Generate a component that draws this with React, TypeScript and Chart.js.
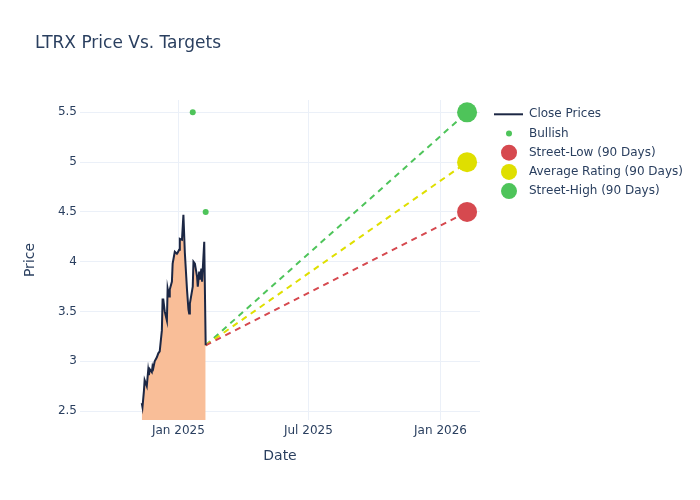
import React, { useEffect, useRef } from "react";
import { Chart, registerables } from "chart.js";

Chart.register(...registerables);

const chartTitle = "LTRX Price Vs. Targets";
const xAxisTitle = "Date";
const yAxisTitle = "Price";

const closeDates = [
  "2024-11-11", "2024-11-12", "2024-11-14", "2024-11-15", "2024-11-18", "2024-11-20",
  "2024-11-21", "2024-11-22", "2024-11-25", "2024-11-26", "2024-11-27", "2024-11-29",
  "2024-12-02", "2024-12-04", "2024-12-06", "2024-12-09", "2024-12-10", "2024-12-11",
  "2024-12-13", "2024-12-16", "2024-12-17", "2024-12-19", "2024-12-20", "2024-12-23",
  "2024-12-24", "2024-12-27", "2024-12-30", "2024-12-31",
  "2025-01-02", "2025-01-03", "2025-01-06", "2025-01-08", "2025-01-10", "2025-01-13",
  "2025-01-15", "2025-01-16", "2025-01-17", "2025-01-21", "2025-01-22", "2025-01-24",
  "2025-01-27", "2025-01-28", "2025-01-30", "2025-01-31", "2025-02-02", "2025-02-03",
  "2025-02-06", "2025-02-08",
];
const closePrices = [
  2.58, 2.54, 2.70, 2.81, 2.75, 2.91,
  2.86, 2.92, 2.89, 2.95, 2.93, 3.00,
  3.04, 3.08, 3.10, 3.31, 3.62, 3.62,
  3.50, 3.41, 3.73, 3.65, 3.72, 3.80,
  3.98, 4.10, 4.08, 4.09,
  4.12, 4.23, 4.22, 4.47, 4.09, 3.72,
  3.52, 3.48, 3.58, 3.75, 4.00, 3.98,
  3.85, 3.75, 3.90, 3.82, 3.93, 3.80,
  4.20, 3.16,
];

const bullishDates = ["2025-01-21", "2025-02-08"];
const bullishTargets = [5.5, 4.5];

const targetStartDate = "2025-02-08";
const targetStartPrice = 3.16;
const targetEndDate = "2026-02-07";
const targetLabels = ["Street-Low (90 Days)", "Average Rating (90 Days)", "Street-High (90 Days)"];
const targetValues = [4.5, 5.0, 5.5];
const targetColors = ["#D6494F", "#DFDF00", "#4EC45A"];

const closeLabel = "Close Prices";
const bullishLabel = "Bullish";
const closeLineColor = "#1C2744";
const closeFillColor = "#F9BE98";
const bullishColor = "#4EC45A";

const xTickDates = ["2025-01-01", "2025-07-01", "2026-01-01"];
const xTickLabels = ["Jan 2025", "Jul 2025", "Jan 2026"];
const yTicks = [2.5, 3, 3.5, 4, 4.5, 5, 5.5];
const xRangeDates = ["2024-08-17", "2026-02-25"];
const yRange = [2.41, 5.624];

const FONT = "'DejaVu Sans', 'Open Sans', Verdana, Arial, sans-serif";
const TEXT = "#2a3f5f";
const GRID = "#EBF0F8";

const dayNum = (s: string) => {
  const [y, m, d] = s.split("-").map(Number);
  return Date.UTC(y, m - 1, d) / 86400000;
};

const legendPlugin = {
  id: "plotlyLegendTitle",
  afterDraw(chart: any) {
    const ctx = chart.ctx as CanvasRenderingContext2D;
    ctx.save();
    ctx.fillStyle = TEXT;
    ctx.font = `17px ${FONT}`;
    ctx.textAlign = "left";
    ctx.textBaseline = "middle";
    ctx.fillText(chartTitle, 35, 44);

    const items = [
      { label: closeLabel, kind: "line", color: closeLineColor, r: 0 },
      { label: bullishLabel, kind: "dot", color: bullishColor, r: 3 },
      ...targetLabels.map((l, i) => ({ label: l, kind: "dot", color: targetColors[i], r: 8 })),
    ];
    const x0 = 494;
    const y0 = 114.3;
    const step = 19.2;
    ctx.font = `12px ${FONT}`;
    items.forEach((it, i) => {
      const y = y0 + i * step;
      if (it.kind === "line") {
        ctx.strokeStyle = it.color;
        ctx.lineWidth = 2;
        ctx.beginPath();
        ctx.moveTo(x0, y);
        ctx.lineTo(x0 + 29, y);
        ctx.stroke();
      } else {
        ctx.fillStyle = it.color;
        ctx.beginPath();
        ctx.arc(x0 + 15, y, it.r, 0, Math.PI * 2);
        ctx.fill();
      }
      ctx.fillStyle = TEXT;
      ctx.fillText(it.label, x0 + 35, y);
    });
    ctx.restore();
  },
};

export default function App() {
  const canvasRef = useRef<HTMLCanvasElement | null>(null);

  useEffect(() => {
    if (!canvasRef.current) return;
    const closeData = closeDates.map((d, i) => ({ x: dayNum(d), y: closePrices[i] }));
    const bullishData = bullishDates.map((d, i) => ({ x: dayNum(d), y: bullishTargets[i] }));
    const targetSets = targetValues.map((v, i) => ({
      type: "line" as const,
      label: targetLabels[i],
      data: [
        { x: dayNum(targetStartDate), y: targetStartPrice },
        { x: dayNum(targetEndDate), y: v },
      ],
      borderColor: targetColors[i],
      backgroundColor: targetColors[i],
      borderWidth: 2,
      borderDash: [6, 5],
      pointRadius: [0, 10],
      pointHoverRadius: [0, 10],
      pointBorderWidth: 0,
      fill: false,
      clip: false as any,
    }));

    const chart = new Chart(canvasRef.current, {
      type: "line",
      data: {
        datasets: [
          {
            label: closeLabel,
            data: closeData,
            borderColor: closeLineColor,
            backgroundColor: closeFillColor,
            borderWidth: 2,
            pointRadius: 0,
            fill: "start",
            tension: 0,
          },
          {
            label: bullishLabel,
            data: bullishData,
            showLine: false,
            pointRadius: 3,
            pointBorderWidth: 0,
            backgroundColor: bullishColor,
            borderColor: bullishColor,
            clip: false as any,
          },
          ...targetSets,
        ] as any,
      },
      options: {
        animation: false,
        responsive: true,
        maintainAspectRatio: false,
        layout: { padding: { top: 100, right: 220, left: 0, bottom: 0 } },
        plugins: {
          legend: { display: false },
          title: { display: false },
          tooltip: { enabled: false },
        },
        scales: {
          x: {
            type: "linear",
            min: dayNum(xRangeDates[0]),
            max: dayNum(xRangeDates[1]),
            afterBuildTicks: (scale: any) => {
              scale.ticks = xTickDates.map((d) => ({ value: dayNum(d) }));
            },
            afterFit: (scale: any) => {
              scale.height = 80;
            },
            ticks: {
              callback: (v: any) => {
                const idx = xTickDates.findIndex((d) => dayNum(d) === v);
                return idx >= 0 ? xTickLabels[idx] : "";
              },
              color: TEXT,
              font: { family: FONT, size: 12 },
              padding: 4,
              maxRotation: 0,
              autoSkip: false,
            },
            grid: { color: GRID, lineWidth: 1, drawTicks: false },
            border: { display: false },
            title: {
              display: true,
              text: xAxisTitle,
              color: TEXT,
              font: { family: FONT, size: 14 },
              padding: { top: 0, bottom: 35 },
            },
          },
          y: {
            type: "linear",
            min: yRange[0],
            max: yRange[1],
            afterBuildTicks: (scale: any) => {
              scale.ticks = yTicks.map((v) => ({ value: v }));
            },
            afterFit: (scale: any) => {
              scale.width = 80;
            },
            ticks: {
              callback: (v: any) => String(v),
              color: TEXT,
              font: { family: FONT, size: 12 },
              padding: 3,
            },
            grid: { color: GRID, lineWidth: 1, drawTicks: false },
            border: { display: false },
            title: {
              display: true,
              text: yAxisTitle,
              color: TEXT,
              font: { family: FONT, size: 14 },
              padding: { top: 22, bottom: 0 },
            },
          },
        },
      },
      plugins: [legendPlugin],
    });
    return () => chart.destroy();
  }, []);

  return (
    <div style={{ position: "absolute", left: 0, top: 0, width: 700, height: 500, background: "#fff" }}>
      <canvas ref={canvasRef} />
    </div>
  );
}
